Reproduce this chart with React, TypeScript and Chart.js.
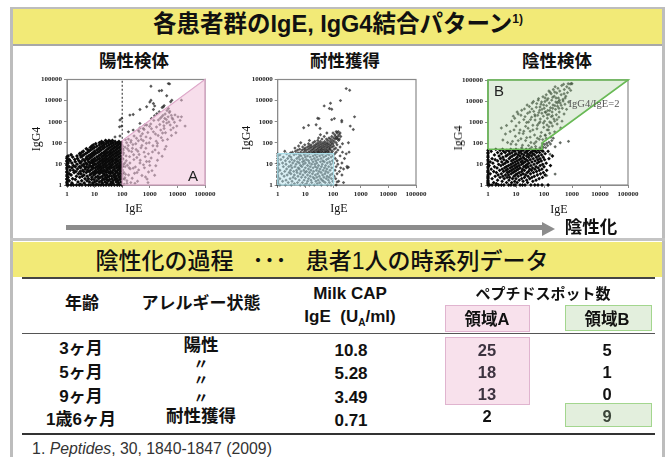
import React, { useEffect, useRef } from "react";
import { Chart, registerables } from "chart.js";

Chart.register(...registerables);

type Pair = [number, number];
type Row = [number, number[]];

const decadeTicks = [1, 10, 100, 1000, 10000, 100000];

// ---------- 陽性検体 ---------- (IgG4 value, then the IgE values read at that height)
const positiveCoreRows: Row[] = [
  [1, [1, 1.1, 1.4, 1.7, 2.2, 2.8, 3.5, 4.7, 6, 7.2, 9, 11, 14, 17, 21, 26, 33, 41, 52, 66, 80, 98]],
  [1.1, [3, 12, 37]],
  [1.25, [1, 1.5, 4.2, 8.5, 19, 28, 46, 74]],
  [1.4, [1, 2.5, 6.5, 10, 15, 24, 39, 61, 90]],
  [1.6, [1.2, 3.4, 5.3, 12, 18, 31, 47, 70]],
  [1.8, [1, 2, 7.8, 9.5, 22, 27, 35, 56, 83]],
  [2, [1, 1.6, 4.5, 6, 14, 20, 43, 64, 97]],
  [2.3, [1.1, 2.9, 8, 11, 16, 25, 30, 52, 77]],
  [2.6, [1, 2.2, 3.6, 5.4, 13, 19, 34, 41, 60, 89]],
  [3, [1, 1.4, 4.1, 6.8, 9.2, 23, 28, 49, 72]],
  [3.4, [1.2, 2.6, 3.2, 7.5, 10.5, 15, 21, 37, 55, 81, 99]],
  [3.9, [1, 1.8, 5, 8.8, 12, 17, 26, 32, 44, 66]],
  [4.4, [1, 2.1, 3, 4, 6.3, 9.8, 14, 19, 24, 38, 58, 86]],
  [5, [1.3, 1.7, 3.7, 5.6, 7.1, 11, 16, 22, 29, 47, 69, 93]],
  [5.7, [1, 2.4, 4.6, 8.2, 13, 18, 27, 35, 53, 78]],
  [6.5, [1, 1.5, 3.1, 6, 9, 10.5, 15, 21, 31, 42, 63, 88]],
  [7.4, [1.2, 2, 2.8, 4.3, 5, 7.6, 12, 17, 25, 36, 50, 74, 100]],
  [8.4, [1, 1.7, 3.5, 6.7, 8.7, 14, 20, 28, 40, 59, 83]],
  [9.6, [1, 2.3, 4, 5.4, 9.9, 11, 16, 23, 33, 45, 67, 95]],
  [11, [1.1, 1.5, 3, 4.8, 7, 8.3, 13, 19, 26, 37, 54, 79]],
  [12.5, [1, 2, 3.3, 6.1, 9.4, 15, 21, 30, 43, 62, 91]],
  [14, [1, 1.3, 2.7, 4.4, 7.8, 11, 17, 24, 34, 48, 71]],
  [16, [1.2, 1.9, 3.8, 5.6, 8.9, 13, 19, 27, 39, 57, 85]],
  [18, [1, 2.4, 4.9, 6.6, 10, 15, 22, 31, 44, 65, 98]],
  [21, [1, 1.6, 3.2, 5.2, 7.5, 12, 18, 25, 36, 52, 76]],
  [24, [1.1, 2.3, 3.6, 6, 8.4, 14, 20, 28, 41, 60, 88]],
  [27, [1.4, 3, 4.1, 7, 9.6, 16, 23, 33, 47, 69]],
  [31, [2.9, 4.8, 8, 11, 18, 26, 38, 55, 82]],
  [35, [3.4, 5.5, 9, 13, 21, 30, 43, 63, 95]],
  [40, [3.9, 6.3, 10, 15, 24, 35, 50, 73]],
  [46, [5.8, 7.2, 12, 17, 27, 40, 58, 86]],
  [52, [5, 8.5, 14, 20, 31, 46, 67, 99]],
  [60, [7, 9.8, 16, 23, 36, 53, 78]],
  [68, [7.8, 12, 19, 28, 42, 62, 90]],
  [78, [9, 15, 22, 33, 49, 72, 95]],
  [90, [11, 18, 26, 39, 58, 84]],
  [100, [15, 21, 31, 46, 68, 93]],
  [115, [18, 27, 38, 55, 76]],
  [130, [25, 33, 44]],
];

const positiveRegionPoints: Pair[] = [
  [132, 3.2], [290, 1.2], [108, 17], [640, 6.5], [175, 42], [1900, 95], [230, 2.1], [410, 28], [118, 1.1], [850, 310],
  [155, 8.7], [3300, 480], [520, 75], [102, 5.1], [2400, 1450], [760, 13], [205, 105], [1250, 37], [345, 3.9], [6100, 220],
  [127, 62], [470, 210], [4600, 1700], [980, 600], [148, 1.6], [265, 16], [1650, 8.2], [112, 33], [580, 125], [3900, 68],
  [195, 5.8], [7800, 940], [320, 48], [1400, 1150], [105, 1.9], [700, 2.4], [2900, 290], [440, 11], [168, 150], [5300, 3100],
  [125, 11], [1050, 165], [245, 82], [360, 1.5], [2100, 33], [9500, 620], [138, 24], [620, 430], [4100, 860], [115, 3.9],
  [890, 30], [300, 7.2], [1750, 560], [3600, 2300], [185, 22], [520, 2.8], [1200, 4.8], [6900, 1300], [104, 68], [270, 210],
  [2600, 175], [750, 95], [150, 1.2], [410, 340], [1480, 1900], [5800, 410], [220, 38], [960, 13], [3100, 1000], [128, 7.4],
  [340, 20], [12500, 1150], [660, 700], [1900, 15], [100, 2.7], [480, 58], [2300, 740], [170, 3], [4400, 145], [1080, 780],
  [210, 130], [590, 9], [8200, 2100], [280, 3.6], [1600, 260], [110, 45], [3500, 50], [730, 190], [140, 14], [5100, 2700],
  [385, 125], [2050, 1200], [250, 6.3], [900, 4.1], [1300, 73], [7100, 510], [165, 75], [450, 15], [3000, 2000], [120, 1.9],
  [620, 36], [19000, 620], [1150, 460], [2800, 23], [330, 165], [4900, 960], [190, 11], [800, 1.9], [1700, 120], [10500, 1700],
  [106, 27], [540, 270], [2200, 3000], [395, 5.2], [3700, 300], [145, 100], [1000, 8.5], [6400, 1500], [235, 55], [1550, 46],
  [4200, 3400], [680, 22], [125, 2.2], [2500, 400], [310, 90], [860, 1.3], [5500, 700], [1350, 330], [178, 6.6], [14000, 1700],
  [440, 500], [1850, 70], [112, 9.3], [2950, 130], [720, 55], [260, 27], [8800, 300], [1120, 19], [3250, 640], [155, 52],
  [1500, 2.9], [490, 145], [6000, 2000], [205, 1.3], [2000, 220], [370, 40], [4000, 1250], [950, 100], [130, 140], [2700, 1700],
];

const positiveUpperPoints: Pair[] = [
  [4700, 64000], [5200, 62000], [1100, 48000], [2200, 29000], [2700, 30000], [4100, 17000], [6300, 10500], [5700, 8800], [1100, 10400],
  [1350, 7300], [770, 5100], [440, 3800], [1350, 3800], [3100, 5100], [190, 2050], [250, 2200], [96, 1430], [83, 1200],
  [96, 620], [80, 570], [440, 830], [168, 330], [250, 400], [1150, 1430], [1800, 2400], [55, 190], [83, 210], [14000, 10500],
  [3500, 1430], [4700, 4200], [770, 700], [380, 400], [580, 480], [2800, 4700], [3300, 5800], [1000, 8500], [1500, 5600],
];

const regionAFill: Pair[] = [[100, 125], [100000, 100000]];
const regionAOutline: Pair[] = [[100, 1], [100, 125], [100000, 100000], [100000, 1], [100, 1]];
const thresholdLine: Pair[] = [[100, 100], [100, 100000]];

// ---------- 耐性獲得 ----------
const tolerantCloudRows: Row[] = [
  [1, [1, 1.2, 1.9, 3.1, 6.5, 9.2, 14, 21, 38, 63, 85, 130]],
  [1.15, [1, 4, 11, 27]],
  [1.3, [1, 2.4, 5.2, 7.8, 17, 33, 52, 74]],
  [1.5, [1, 1.5, 3.3, 12, 24, 45, 98, 160]],
  [1.7, [1, 2, 6, 9, 16, 29, 40, 68]],
  [2, [1.2, 2.8, 4.4, 13, 21, 36, 57, 88, 125]],
  [2.3, [1, 3.6, 7.2, 10, 19, 26, 47, 72]],
  [2.6, [1, 1.7, 5.4, 15, 32, 61, 110]],
  [3, [1, 2.2, 4, 8.2, 12, 23, 42, 80, 210]],
  [3.4, [1.4, 3, 6.4, 18, 28, 51, 95, 140]],
  [3.9, [1, 2.6, 5, 9.8, 14, 37, 66]],
  [4.4, [1, 1.8, 3.8, 7, 11, 20, 31, 55, 170]],
  [5, [1.2, 2.9, 4.8, 8.8, 16, 25, 44, 78, 118]],
  [5.7, [1, 2.1, 6, 13, 34, 60, 240]],
  [6.5, [1, 3.3, 5.5, 10, 19, 27, 49, 90, 190, 330]],
  [7.4, [1.6, 2.5, 4.2, 7.5, 15, 23, 38, 70, 130]],
  [8.4, [1, 3, 6.7, 12, 30, 54]],
  [9.6, [1.1, 2, 4.6, 8.5, 17, 22, 41, 83, 150]],
  [11, [1, 1.5, 3.5, 6, 10, 14, 26, 62, 105, 210]],
  [12.5, [2.7, 5.2, 7.9, 19, 35, 48, 76]],
  [14, [1, 1.9, 4, 9, 13, 24, 43, 95, 140]],
  [16, [1.3, 3.2, 6.3, 11, 17, 29, 58]],
  [18, [1, 2.3, 4.9, 8, 21, 37, 68, 120, 260]],
  [21, [1.6, 3, 5.7, 10, 15, 26, 46, 85]],
  [24, [1, 2.6, 7, 12, 19, 33, 55, 100, 180]],
  [27, [1.2, 3.9, 6.2, 9.3, 23, 41, 72]],
  [30, [1, 2.1, 4.7, 14, 28, 62, 115, 300]],
  [33, [2.9, 5.5, 8.4, 11, 17, 22, 35, 48, 88]],
  [36, [3.4, 6.8, 13, 19, 26, 31, 42, 56, 70, 130, 220]],
  [40, [1.8, 4.4, 9.5, 15, 21, 29, 38, 52, 66, 95]],
  [45, [5.2, 7.6, 11, 17, 24, 33, 44, 60, 82, 150]],
  [50, [6.2, 9, 13, 19, 27, 37, 50, 72, 110]],
  [56, [4.2, 10, 15, 21, 30, 41, 58, 78, 125]],
  [63, [8, 12, 17, 24, 34, 47, 65, 92, 180]],
  [70, [5.7, 14, 20, 28, 39, 54, 75, 105]],
  [80, [9.5, 16, 23, 32, 45, 62, 84, 140]],
  [90, [13, 26, 37, 52, 70, 100, 220]],
  [100, [6.8, 19, 30, 43, 60, 88, 130]],
  [115, [22, 35, 50, 78, 110]],
  [130, [14, 28, 65, 95, 160]],
  [150, [40, 58, 82, 120, 145, 170]],
  [170, [30, 72, 105, 135]],
  [200, [48, 90, 125, 150, 190]],
  [240, [35, 115, 165]],
  [290, [60, 100, 140, 180]],
  [340, [130, 155]],
];

const tolerantUpperPoints: Pair[] = [
  [8.7, 515], [13, 670], [24.5, 720], [28, 1450], [31, 1400], [34, 480], [48, 5600], [81, 7500], [74, 4200], [90, 3900],
  [186, 10000], [300, 37000], [400, 31000], [90, 1250], [112, 1400], [207, 1150], [207, 980], [600, 1700], [420, 620],
  [540, 430], [360, 100], [380, 36], [320, 7.5], [360, 7], [240, 1.3], [140, 1.4],
];

const toleranceBoxFill: Pair[] = [[1, 31], [105, 31]];
const toleranceBoxOutline: Pair[] = [[1, 1], [1, 31], [105, 31], [105, 1], [1, 1]];

// ---------- 陰性検体 ----------
const negativeCoreRows: Row[] = [
  [1, [1, 1.15, 1.4, 1.9, 2.4, 3, 3.7, 5.5, 6.6, 8.5, 9.5, 14, 17, 21, 34, 47, 61, 85, 140]],
  [1.15, [1, 2]],
  [1.3, [1, 1.6, 4.6, 7, 11, 26]],
  [1.5, [1, 3.2, 9, 18, 40]],
  [1.7, [1, 2.2, 5.6, 13, 24, 52]],
  [2, [1, 1.4, 3.8, 7.5, 10, 16, 31, 67]],
  [2.3, [1, 2.7, 4.8, 6, 20, 37, 88]],
  [2.6, [1, 1.8, 3.4, 8.4, 12, 27, 45]],
  [3, [1, 2.3, 4.2, 5.4, 9.6, 15, 22, 58, 110]],
  [3.4, [1.2, 3, 6.7, 11, 18, 33, 75]],
  [3.9, [1, 2, 4.9, 7.8, 13, 25, 42, 95]],
  [4.4, [1, 1.6, 3.6, 5.8, 9, 16, 28, 54]],
  [5, [1, 2.6, 4.4, 6.9, 10.5, 20, 36, 68, 125]],
  [5.7, [1.3, 3.2, 5, 8, 12, 17, 31, 47, 84]],
  [6.5, [1, 2.1, 3.9, 6.2, 9.5, 14, 23, 39, 62]],
  [7.4, [1, 1.7, 4.5, 7.2, 11, 19, 27, 52, 100]],
  [8.4, [1.1, 2.9, 5.4, 8.6, 13, 22, 34, 73, 170]],
  [9.6, [1, 2.4, 3.5, 6.5, 10, 16, 25, 44, 90]],
  [11, [1, 1.5, 4.1, 7.7, 12, 18, 29, 57, 120]],
  [12.5, [1.2, 3.1, 5.1, 9.2, 15, 21, 37, 66]],
  [14, [1, 2.2, 4.6, 6.9, 11, 17, 26, 48, 80]],
  [16, [1, 1.8, 3.7, 8.1, 13, 23, 32, 60, 105]],
  [18, [1.4, 2.8, 5.7, 9.8, 15, 20, 41, 72, 150]],
  [21, [1, 3.4, 6.3, 11, 18, 28, 53, 94]],
  [24, [1, 2.5, 4.4, 7.4, 14, 24, 36, 64, 200]],
  [27, [1.7, 5, 8.8, 12, 19, 30, 46, 82]],
  [31, [1, 3, 6, 10, 16, 26, 40, 110]],
  [35, [1, 2.2, 4.1, 7.2, 13, 21, 33, 55, 70]],
  [40, [1.3, 3.6, 5.6, 9.1, 15, 24, 38, 48, 92, 140]],
  [45, [1, 2.7, 4.7, 8, 12, 18, 27, 43, 62, 85]],
  [50, [1.9, 3.3, 6.5, 10, 16, 23, 31, 51, 75]],
];

const negativeRegionPoints: Pair[] = [
  [3, 520], [3.4, 140], [4.2, 270], [5, 105], [4.6, 680], [6.2, 350], [7, 1100], [8, 1900], [6.6, 90], [9.5, 210],
  [10, 640], [11, 3000], [12, 130], [13, 950], [14, 420], [15, 2100], [17, 78], [18, 280], [19, 1300], [20, 4200],
  [22, 620], [24, 180], [26, 2600], [28, 1000], [30, 5500], [32, 360], [34, 105], [36, 1700], [38, 8000], [40, 700],
  [43, 3200], [46, 240], [48, 1250], [50, 68], [53, 5000], [56, 480], [60, 2100], [62, 11000], [65, 860], [68, 150],
  [70, 3600], [74, 1400], [78, 7000], [80, 320], [84, 2600], [88, 95], [92, 16000], [95, 1900], [98, 560], [102, 4500],
  [105, 1100], [108, 9500], [112, 230], [115, 2900], [120, 20000], [124, 6000], [128, 720], [132, 1500], [136, 3500], [140, 13000],
  [145, 420], [150, 2300], [155, 8000], [160, 1000], [165, 26000], [170, 4800], [176, 190], [182, 1800], [188, 11000], [195, 3000],
  [200, 650], [210, 6400], [215, 35000], [225, 1400], [232, 17000], [240, 340], [250, 48000], [258, 4000], [265, 9000], [275, 2200],
  [285, 24000], [295, 800], [305, 5600], [315, 40000], [325, 14000], [340, 1700], [350, 3000], [365, 30000], [380, 8000], [395, 520],
  [410, 20000], [430, 55000], [450, 4500], [475, 12000], [500, 63000], [530, 35000], [560, 7000], [600, 17000], [650, 48000], [690, 25000],
  [730, 66000], [790, 40000], [860, 65000], [950, 68000], [1000, 66000], [440, 1100], [520, 2400], [640, 4000], [760, 9000], [900, 32000],
  [72, 60], [85, 72], [95, 62], [105, 85], [115, 60], [125, 98], [135, 75], [150, 110], [170, 90], [190, 130], [215, 170], [250, 66], [380, 103], [750, 120], [165, 29], [250, 3.3], [125, 2.8],
  [36, 62], [28, 75], [16, 60], [10, 85], [7.5, 120], [45, 95], [22, 130], [58, 170], [52, 115], [75, 210], [90, 145], [32, 190], [15, 160], [110, 240], [130, 420], [160, 290], [120, 170],
  [9, 1500], [12, 2400], [16, 3600], [21, 1800], [25, 6500], [31, 3000], [37, 4200], [42, 9500], [47, 2200], [55, 7500], [64, 13000], [72, 5200], [82, 9000], [97, 6500], [110, 14000], [128, 11000], [150, 30000], [180, 22000], [205, 15000], [240, 27000],
  [270, 14000], [330, 9500], [410, 6200], [480, 10000], [570, 14000], [240, 1100], [290, 1300], [340, 4500], [150, 600], [180, 900], [95, 900], [72, 1000], [58, 700], [40, 420], [27, 500], [19, 360], [13, 300], [8.5, 420],
  [110, 3000], [130, 2200], [160, 3500], [200, 2000], [85, 4000], [65, 2800], [48, 1900], [33, 1300], [24, 950], [205, 4500], [245, 6000], [300, 8000], [360, 11000], [520, 22000],
];

const regionBFill: Pair[] = [[1, 50], [85, 50], [85, 100], [100000, 100000]];
const regionBOutline: Pair[] = [[1, 50], [85, 50], [85, 100], [100000, 100000], [1, 100000], [1, 50]];

// ---------- 表 ----------
const ages = ["3ヶ月", "5ヶ月", "9ヶ月", "1歳6ヶ月"];
const milkCap = ["10.8", "5.28", "3.49", "0.71"];
const spotsA = ["25", "18", "13", "2"];
const spotsB = ["5", "1", "0", "9"];
const rowY = [348, 372, 396, 419];
const capY = [350, 373, 397, 420];
const spotY = [350, 372, 394, 416];
const statusLabels: [string, number][] = [["陽性", 346], ["〃", 363], ["〃", 379], ["〃", 397], ["耐性獲得", 417]];

const toXY = (p: Pair[]) => p.map(([x, y]) => ({ x, y }));
const rowsToXY = (rows: Row[]) => rows.flatMap(([y, xs]) => xs.map((x) => ({ x, y })));

const plotFrame = {
  id: "plotFrame",
  beforeDatasetsDraw(chart: any) {
    const { ctx, chartArea: a } = chart;
    ctx.save();
    ctx.strokeStyle = "#8a8a8a";
    ctx.lineWidth = 1.2;
    ctx.strokeRect(a.left, a.top, a.right - a.left, a.bottom - a.top);
    ctx.restore();
  },
};

const dots = (data: any[], color: string, radius: number) => ({
  type: "scatter",
  data,
  showLine: false,
  pointStyle: "rectRot",
  pointRadius: radius,
  pointBorderWidth: 0,
  pointBackgroundColor: color,
  clip: false,
});

const area = (data: Pair[], fill: string, color: string) => ({
  type: "scatter",
  data: toXY(data),
  showLine: true,
  fill,
  backgroundColor: color,
  borderWidth: 0,
  borderColor: "transparent",
  pointRadius: 0,
  tension: 0,
});

const outline = (data: Pair[], color: string, width: number, dash: number[] = []) => ({
  type: "scatter",
  data: toXY(data),
  showLine: true,
  fill: false,
  borderColor: color,
  borderWidth: width,
  borderDash: dash,
  pointRadius: 0,
  tension: 0,
  clip: false,
});

function makeConfig(datasets: any[], leftW: number, topPad: number): any {
  const tickFont = { family: "'Liberation Serif', serif", size: 7, weight: "bold" as const };
  const base = {
    type: "logarithmic",
    min: 1,
    max: 100000,
    afterBuildTicks: (s: any) => {
      s.ticks = decadeTicks.map((value) => ({ value }));
    },
    border: { display: true, color: "#8a8a8a", width: 1 },
    grid: { display: true, drawOnChartArea: false, drawTicks: true, tickLength: 3, color: "#8a8a8a" },
  };
  return {
    type: "scatter",
    data: { datasets },
    plugins: [plotFrame],
    options: {
      responsive: false,
      animation: false,
      events: [],
      layout: { padding: { top: topPad, right: 20, left: 0, bottom: 0 } },
      plugins: { legend: { display: false }, tooltip: { enabled: false } },
      scales: {
        x: {
          ...base,
          afterFit: (s: any) => { s.height = 29; },
          ticks: { autoSkip: false, maxRotation: 0, minRotation: 0, padding: 2, color: "#222", font: tickFont, callback: (v: any) => String(v) },
        },
        y: {
          ...base,
          afterFit: (s: any) => { s.width = leftW; },
          ticks: { autoSkip: false, padding: 2, color: "#222", font: tickFont, callback: (v: any) => String(v) },
        },
      },
    },
  };
}

function ScatterPanel({ left, width, height, leftW, topPad, datasets }: any) {
  const ref = useRef<HTMLCanvasElement>(null);
  useEffect(() => {
    const chart = new Chart(ref.current as HTMLCanvasElement, makeConfig(datasets, leftW, topPad));
    return () => chart.destroy();
  }, []);
  return <canvas ref={ref} width={width} height={height} style={{ position: "absolute", left, top: 68, width, height }} />;
}

const SANS = "'Liberation Sans', 'Noto Sans CJK JP', sans-serif";
const SERIF = "'Liberation Serif', serif";

function T({ x, y, size, bold = true, font = SANS, color = "#111", rot = 0, children, style }: any) {
  return (
    <div
      style={{
        position: "absolute", left: x, top: y, transform: `translate(-50%,-50%)${rot ? ` rotate(${rot}deg)` : ""}`,
        fontFamily: font, fontSize: size, fontWeight: bold ? 700 : 400, color, whiteSpace: "pre", lineHeight: 1, ...style,
      }}
    >
      {children}
    </div>
  );
}

const Box = ({ x, y, w, h, bg, bd }: any) => (
  <div style={{ position: "absolute", left: x, top: y, width: w, height: h, background: bg, border: bd ? `1px solid ${bd}` : "none", boxSizing: "border-box" }} />
);

const PINK = "#f8e1ec";
const PINK_B = "#e0b4cf";
const GREEN = "#e3efdd";
const GREEN_B = "#a3d68e";
const YELLOW = "#f2ea77";

export default function App() {
  document.body.style.margin = "0";
  document.body.style.background = "#fff";

  const positive = [
    area(regionAFill, "start", "rgba(240,190,215,0.5)"),
    outline(regionAOutline, "#d9a3c6", 1.2),
    outline(thresholdLine, "#222", 1, [2, 2]),
    dots(toXY(positiveRegionPoints), "rgba(45,40,45,0.72)", 1.7),
    dots(toXY(positiveUpperPoints), "rgba(45,45,45,0.8)", 1.7),
    dots(rowsToXY(positiveCoreRows), "#0a0a0a", 2),
  ];
  const tolerant = [
    area(toleranceBoxFill, "start", "rgba(175,225,235,0.45)"),
    outline(toleranceBoxOutline, "#a6dbe6", 1.2),
    dots(toXY(tolerantUpperPoints), "rgba(50,50,50,0.8)", 1.7),
    dots(rowsToXY(tolerantCloudRows), "rgba(25,25,25,0.72)", 1.7),
  ];
  const negative = [
    area(regionBFill, "end", "rgba(150,195,135,0.28)"),
    outline(regionBOutline, "#62b84e", 1.6),
    dots(toXY(negativeRegionPoints), "rgba(40,50,40,0.72)", 1.7),
    dots(rowsToXY(negativeCoreRows), "#0a0a0a", 1.9),
  ];

  return (
    <div style={{ position: "relative", width: 667, height: 457, overflow: "hidden", background: "#fff", filter: "blur(0.3px)" }}>
      <Box x={10} y={7} w={3} h={450} bg="#bdbdbd" />
      <Box x={662} y={7} w={3} h={450} bg="#bdbdbd" />
      <Box x={10} y={7} w={655} h={2} bg="#bdbdbd" />
      <Box x={13} y={9} w={649} h={35} bg={YELLOW} />
      <Box x={13} y={44} w={649} h={1.5} bg="#a8a8a8" />
      <Box x={10} y={238} w={655} h={3} bg="#c4c4c4" />
      <Box x={13} y={242} w={649} h={35} bg={YELLOW} />

      <T x={338} y={25} size={23.5}>
        各患者群のIgE, IgG4結合パターン<sup style={{ fontSize: 12, lineHeight: 0 }}>1)</sup>
      </T>
      <T x={134} y={62} size={17.5}>陽性検体</T>
      <T x={345} y={62} size={17.5}>耐性獲得</T>
      <T x={557} y={62} size={17.5}>陰性検体</T>

      <ScatterPanel left={30} width={195} height={146} leftW={37} topPad={11.5} datasets={positive} />
      <ScatterPanel left={240} width={196} height={146} leftW={37.7} topPad={11.5} datasets={tolerant} />
      <ScatterPanel left={450} width={198} height={146} leftW={38} topPad={12} datasets={negative} />

      <T x={36} y={139} size={12} bold={false} font={SERIF} rot={-90}>IgG4</T>
      <T x={134} y={208} size={12} bold={false} font={SERIF}>IgE</T>
      <T x={246} y={138} size={12} bold={false} font={SERIF} rot={-90}>IgG4</T>
      <T x={339} y={208} size={12} bold={false} font={SERIF}>IgE</T>
      <T x={458} y={138} size={12} bold={false} font={SERIF} rot={-90}>IgG4</T>
      <T x={559} y={209} size={12} bold={false} font={SERIF}>IgE</T>
      <T x={193} y={175} size={15} bold={false} color="#222">A</T>
      <T x={499} y={90} size={15} bold={false} color="#222">B</T>
      <T x={594} y={104} size={10.5} bold={false} font={SERIF} color="#555">IgG4/IgE=2</T>

      <Box x={66} y={225} w={477} h={5} bg="#8c8c8c" />
      <div style={{ position: "absolute", left: 542, top: 222, width: 0, height: 0, borderTop: "7px solid transparent", borderBottom: "7px solid transparent", borderLeft: "13px solid #8c8c8c" }} />
      <T x={591} y={228} size={17.5}>陰性化</T>

      <T x={322} y={261} size={23} style={{ fontWeight: 500, wordSpacing: 3 }}>陰性化の過程  ･･･  患者1人の時系列データ</T>
      <Box x={22} y={277} w={633} h={1.5} bg="#444" />
      <Box x={22} y={333} w={633} h={1} bg="#555" />
      <Box x={22} y={432.5} w={633} h={2} bg="#333" />

      <T x={82} y={303} size={17}>年齢</T>
      <T x={201} y={303} size={17}>アレルギー状態</T>
      <T x={350} y={293} size={17}>Milk CAP</T>
      <T x={350} y={316} size={17}>
        IgE  (U<sub style={{ fontSize: 10, lineHeight: 0 }}>A</sub>/ml)
      </T>
      <T x={543} y={293} size={15}>ペプチドスポット数</T>

      <Box x={445} y={305} w={85} h={27} bg={PINK} bd={PINK_B} />
      <Box x={565} y={305} w={87} h={26} bg={GREEN} bd={GREEN_B} />
      <T x={487} y={319} size={16.5}>領域A</T>
      <T x={607} y={319} size={16.5}>領域B</T>
      <Box x={445} y={337} w={85} h={68} bg={PINK} bd={PINK_B} />
      <Box x={565} y={403} w={87} h={24} bg={GREEN} bd={GREEN_B} />

      {ages.map((a, i) => <T key={a} x={81} y={rowY[i]} size={17}>{a}</T>)}
      {statusLabels.map(([s, y], i) => <T key={i} x={201} y={y} size={i === 0 || i === 4 ? 17.5 : 15}>{s}</T>)}
      {milkCap.map((v, i) => <T key={v} x={351} y={capY[i]} size={17}>{v}</T>)}
      {spotsA.map((v, i) => <T key={v} x={487} y={spotY[i]} size={16.5} color={i < 3 ? "#3d3340" : "#111"}>{v}</T>)}
      {spotsB.map((v, i) => <T key={v} x={607} y={spotY[i]} size={16.5} color={i === 3 ? "#3c463a" : "#111"}>{v}</T>)}

      <T x={152} y={449} size={15.8} bold={false} color="#333">
        1. <i>Peptides</i>, 30, 1840-1847 (2009)
      </T>
    </div>
  );
}
